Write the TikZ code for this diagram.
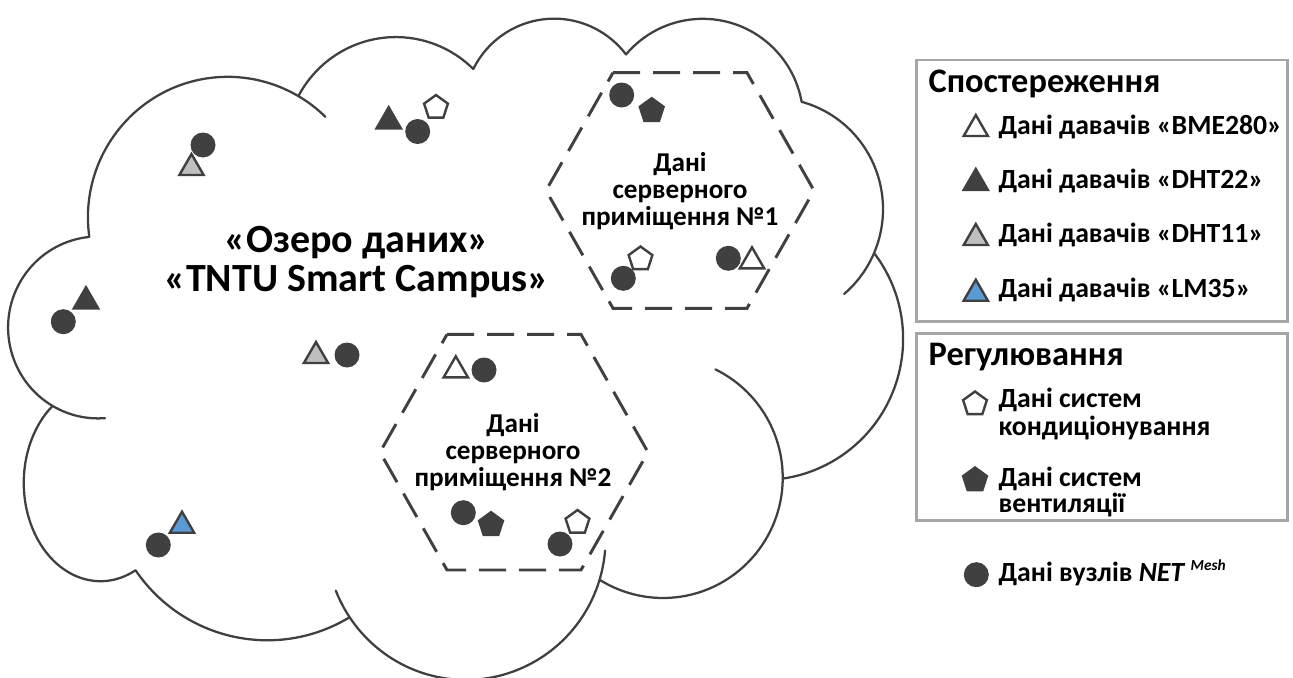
\documentclass[tikz,border=0pt]{standalone}
\usepackage{fontspec}
\setmainfont{Carlito}
\usetikzlibrary{shapes.geometric}
\definecolor{dk}{HTML}{404040}
\definecolor{lg}{HTML}{BFBFBF}
\definecolor{bl}{HTML}{5B9BD5}
\definecolor{bx}{HTML}{A6A6A6}
\pgfmathdeclarefunction{vt}{3}{%
  \begingroup
  \pgfmathparse{atan2((#1)*sin(#3),(#2)*cos(#3))}%
  \let\vtA\pgfmathresult
  \pgfmathparse{\vtA+360*round(((#3)-\vtA)/360)}%
  \pgfmathsmuggle\pgfmathresult
  \endgroup}
\newcommand\fMain{\fontsize{30}{30}\selectfont\bfseries}
\newcommand\fHex{\fontsize{20.4}{20.4}\selectfont\bfseries}
\newcommand\fLeg{\fontsize{20.8}{20.8}\selectfont\bfseries}
\newcommand\fTit{\fontsize{25.8}{25.8}\selectfont\bfseries}
\tikzset{
  oo/.style n args={4}{x radius=#1, y radius=#2, start angle={vt(#1,#2,#3)}, end angle={vt(#1,#2,(#3)+(#4))}},
  cloudline/.style={draw=dk, line width=1.7pt, line join=round},
  hexline/.style={draw=dk, line width=2.2pt, dash pattern=on 20.25pt off 9.75pt},
  legbox/.style={draw=bx, line width=2pt},
  dot/.style={circle, fill=dk, minimum size=18.75pt, inner sep=0pt},
  trib/.style={regular polygon, regular polygon sides=3, minimum size=21pt, inner sep=0pt, draw=dk, line width=1.8pt},
  triw/.style={trib, fill=white},
  trik/.style={trib, fill=dk},
  trig/.style={trib, fill=lg},
  tril/.style={trib, fill=bl},
  pentb/.style={regular polygon, regular polygon sides=5, minimum size=18.75pt, inner sep=0pt, draw=dk, line width=1.8pt},
  pentw/.style={pentb, fill=white},
  pentk/.style={pentb, fill=dk},
  lbl/.style={anchor=base west, inner sep=0pt, text=black},
  ctr/.style={anchor=base, inner sep=0pt, text=black},
}
\begin{document}
\begin{tikzpicture}[x=0.75pt, y=-0.75pt]
\useasboundingbox (0,0) rectangle (1293,678);
\fill[white] (0,0) rectangle (1293,678);
% cloud
\begin{scope}[shift={(8.5,16.5)}, x=1cm, y=1cm, xscale=0.54563, yscale=-0.40329]
\draw[cloudline] (3.900,14.370)
 arc[oo={6.753}{9.190}{-190.4875}{123.7805}]
 arc[oo={6.753}{9.190}{-66.7070}{12.3194}]
 arc[oo={6.753}{9.190}{-54.3876}{-12.3194}]
 arc[oo={5.333}{7.267}{-144.1024}{89.9452}]
 arc[oo={4.365}{5.945}{-145.8079}{99.7230}]
 arc[oo={4.857}{6.595}{-130.9861}{117.2417}]
 arc[oo={5.333}{7.273}{-78.7089}{109.0269}]
 arc[oo={5.333}{7.273}{30.3180}{27.7515}]
 arc[oo={5.333}{7.273}{58.0695}{-27.7515}]
 arc[oo={6.775}{9.220}{-46.2673}{130.2690}]
 arc[oo={5.785}{7.867}{0.6250}{-70.9174}]
 arc[oo={5.785}{7.867}{-70.2924}{70.9174}]
 arc[oo={5.785}{7.867}{0.6250}{114.0333}]
 arc[oo={6.752}{9.215}{22.4516}{-15.9984}]
 arc[oo={6.752}{9.215}{6.4532}{15.9984}]
 arc[oo={6.752}{9.215}{22.4516}{115.1726}]
 arc[oo={6.752}{9.215}{137.6242}{14.0811}]
 arc[oo={6.752}{9.215}{151.7053}{-14.0811}]
 arc[oo={7.720}{10.543}{66.2426}{70.6}]
 arc[oo={3.705}{6.431}{73.47}{171.82}]
 arc[oo={4.345}{5.945}{-246.8285}{-26.4295}]
 arc[oo={4.345}{5.945}{-273.258}{26.4295}]
 arc[oo={4.345}{5.945}{-246.8285}{152.5189}]
 -- cycle;
\end{scope}
% hexagons
\coordinate (h1tl) at (613,72.7);  \coordinate (h1tr) at (747,72.7);
\coordinate (h1r) at (814,190.5);  \coordinate (h1br) at (747,308.3);
\coordinate (h1bl) at (613,308.3); \coordinate (h1l) at (546,190.5);
\draw[hexline] (h1tl) -- (h1tr) -- (h1r) -- (h1br) -- (h1bl) -- (h1l) -- cycle;
\coordinate (h2tl) at (447,334.4);  \coordinate (h2tr) at (581,334.4);
\coordinate (h2r) at (648,452.2);  \coordinate (h2br) at (581,570);
\coordinate (h2bl) at (447,570); \coordinate (h2l) at (380,452.2);
\draw[hexline] (h2tl) -- (h2tr) -- (h2r) -- (h2br) -- (h2bl) -- (h2l) -- cycle;
% main text
\node[ctr, font=\fMain] (lake1) at (357,252) {«Озеро даних»};
\node[ctr, font=\fMain] (lake2) at (357,291) {«TNTU Smart Campus»};
% hexagon texts
\node[ctr, font=\fHex] (s1a) at (680,171) {Дані};
\node[ctr, font=\fHex] (s1b) at (680,198) {серверного};
\node[ctr, font=\fHex] (s1c) at (680,225) {приміщення №1};
\node[ctr, font=\fHex] (s2a) at (513,432) {Дані};
\node[ctr, font=\fHex] (s2b) at (513,459) {серверного};
\node[ctr, font=\fHex] (s2c) at (513,486) {приміщення №2};
% markers in cloud
\node[trik] (m1) at (388.7,121.3) {};
\node[dot] (m2) at (417.7,131.5) {};
\node[pentw] (m3) at (436,107.5) {};
\node[dot] (m4) at (203,145) {};
\node[trig] (m5) at (191.5,168) {};
\node[trik] (m6) at (86,301.3) {};
\node[dot] (m7) at (63.3,321.7) {};
\node[trig] (m8) at (316,356) {};
\node[dot] (m9) at (347,355) {};
\node[tril] (m10) at (182,525.7) {};
\node[dot] (m11) at (158.3,545) {};
% hexagon 1 markers
\node[dot] (a1) at (621.7,95) {};
\node[pentk] (a2) at (651.7,110.7) {};
\node[pentw] (a3) at (640.5,259) {};
\node[dot] (a4) at (623.3,278.3) {};
\node[dot] (a5) at (728.3,258.3) {};
\node[triw] (a6) at (752,261.3) {};
% hexagon 2 markers
\node[triw] (b1) at (455.8,370.3) {};
\node[dot] (b2) at (484,370) {};
\node[dot] (b3) at (463.3,512.7) {};
\node[pentk] (b4) at (491,524.7) {};
\node[pentw] (b5) at (577.5,522.5) {};
\node[dot] (b6) at (560,544) {};
% legend
\draw[legbox] (916.7,60) rectangle (1287.7,321.7);
\draw[legbox] (916.7,333.3) rectangle (1287.7,520.7);
\node[lbl, font=\fTit] (g1) at (928.3,92) {Спостереження};
\node[triw] (k1) at (975.8,129) {};
\node[lbl, font=\fLeg] (l1) at (998.3,134) {Дані давачів «BME280»};
\node[trik] (k2) at (975.8,183) {};
\node[lbl, font=\fLeg] (l2) at (998.3,188.3) {Дані давачів «DHT22»};
\node[trig] (k3) at (975.8,238) {};
\node[lbl, font=\fLeg] (l3) at (998.3,242.7) {Дані давачів «DHT11»};
\node[tril] (k4) at (975.8,293.7) {};
\node[lbl, font=\fLeg] (l4) at (998.3,297.3) {Дані давачів «LM35»};
\node[lbl, font=\fTit] (g2) at (928.3,365) {Регулювання};
\node[pentw] (k5) at (975,404) {};
\node[lbl, font=\fLeg] (l5a) at (998.3,407.3) {Дані систем};
\node[lbl, font=\fLeg] (l5b) at (998.3,435) {кондиціонування};
\node[pentk] (k6) at (975,480) {};
\node[lbl, font=\fLeg] (l6a) at (998.3,486.7) {Дані систем};
\node[lbl, font=\fLeg] (l6b) at (998.3,512.7) {вентиляції};
\node[dot] (k7) at (976.3,574.7) {};
\node[lbl, font=\fLeg] (l7) at (998.3,581.7) {Дані вузлів \textit{NET}\hspace{4pt}\raisebox{8.5pt}{\fontsize{11.5}{11.5}\selectfont\itshape Mesh}};
\end{tikzpicture}
\end{document}
